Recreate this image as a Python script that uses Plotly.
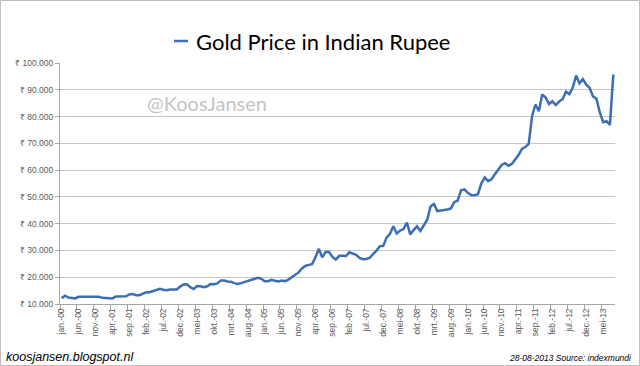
import plotly.graph_objects as go

# ---- data ----
month_abbr = ["jan.", "feb.", "mrt.", "apr.", "mei", "jun.", "jul.", "aug.", "sep.", "okt.", "nov.", "dec."]
years = ["00", "01", "02", "03", "04", "05", "06", "07", "08", "09", "10", "11", "12", "13"]
categories = [f"{m}-{y}" for y in years for m in month_abbr][:164]

price_2000 = [12200, 13100, 12400, 12200, 12100, 12700, 12700, 12600, 12600, 12600, 12500, 12700]
price_2001 = [12300, 12200, 12200, 12100, 12800, 12800, 12700, 12900, 13600, 13700, 13300, 13300]
price_2002 = [13900, 14400, 14400, 14800, 15400, 15700, 15300, 15100, 15400, 15300, 15400, 16500]
price_2003 = [17300, 17400, 16300, 15600, 16700, 16600, 16300, 16600, 17500, 17400, 17700, 18800]
price_2004 = [18800, 18400, 18300, 17800, 17500, 17800, 18200, 18400, 18800, 19200, 19800, 19400]
price_2005 = [18500, 18500, 19000, 18700, 18400, 18800, 18500, 19100, 20000, 21000, 21800, 23300]
price_2006 = [24200, 24600, 24900, 27500, 30600, 27400, 29500, 29400, 27600, 26600, 28000, 28000]
price_2007 = [27900, 29300, 28700, 28400, 27200, 26700, 26800, 27200, 28600, 29900, 31600, 31700]
price_2008 = [34800, 36200, 39000, 36300, 37400, 38000, 40400, 36000, 37600, 39000, 37300, 39500]
price_2009 = [41500, 46400, 47400, 44700, 45000, 45100, 45300, 45700, 48000, 48600, 52500, 52800]
price_2010 = [51500, 50700, 50600, 51000, 55000, 57300, 55900, 56600, 58500, 60000, 61900, 62600]
price_2011 = [61600, 62300, 64000, 65600, 67900, 68600, 69800, 80200, 84500, 82000, 88300, 87100]
price_2012 = [84700, 85700, 84300, 85600, 86500, 89300, 88400, 90700, 95300, 92400, 94000, 91900]
price_2013 = [90700, 87500, 86700, 81600, 77900, 78300, 76900, 95700]

prices = (price_2000 + price_2001 + price_2002 + price_2003 + price_2004 + price_2005 +
          price_2006 + price_2007 + price_2008 + price_2009 + price_2010 + price_2011 +
          price_2012 + price_2013)

y_tickvals = [10000, 20000, 30000, 40000, 50000, 60000, 70000, 80000, 90000, 100000]
y_ticktext = ["₹ 10.000", "₹ 20.000", "₹ 30.000", "₹ 40.000", "₹ 50.000",
              "₹ 60.000", "₹ 70.000", "₹ 80.000", "₹ 90.000", "₹ 100.000"]

series_name = "Gold Price in Indian Rupee"
LINE = "#3C6EB4"

# ---- layout geometry (pixels) ----
W, H = 640, 366
ML, MR, MT, MB = 60, 25, 63, 62
PW, PH = W - ML - MR, H - MT - MB


def px(x):
    return (x - ML) / PW


def py(y):
    return (H - MB - y) / PH


fig = go.Figure()
fig.add_trace(go.Scatter(
    x=categories, y=prices, mode="lines", name=series_name,
    line=dict(color=LINE, width=2.5), showlegend=False,
))

fig.update_layout(
    width=W, height=H,
    margin=dict(l=ML, r=MR, t=MT, b=MB),
    paper_bgcolor="white", plot_bgcolor="white",
    font=dict(family="Liberation Sans, Arial, sans-serif", color="#595959"),
    xaxis=dict(
        type="category", range=[-0.5, len(categories) - 0.5],
        tickmode="linear", tick0=0, dtick=5,
        tickson="boundaries", ticks="outside", ticklen=5, tickcolor="#a6a6a6",
        tickangle=-90, tickfont=dict(size=8.5, color="#595959"),
        showline=True, linecolor="#a6a6a6", linewidth=1,
        showgrid=False, zeroline=False,
    ),
    yaxis=dict(
        range=[10000, 100000], tickmode="array",
        tickvals=y_tickvals, ticktext=y_ticktext,
        ticks="outside", ticklen=4, tickcolor="#a6a6a6",
        tickfont=dict(size=8.5, color="#595959"),
        showline=True, linecolor="#a6a6a6", linewidth=1,
        showgrid=True, gridcolor="#c6c6c6", gridwidth=1, zeroline=False,
    ),
    shapes=[
        # legend sample line
        dict(type="line", xref="paper", yref="paper",
             x0=px(174), x1=px(188), y0=py(41), y1=py(41),
             line=dict(color=LINE, width=2.5)),
        # outer border
        dict(type="rect", xref="paper", yref="paper",
             x0=px(0.5), x1=px(639.5), y0=py(365.5), y1=py(0.5),
             line=dict(color="#bfbfbf", width=1)),
    ],
    annotations=[
        dict(text=series_name, xref="paper", yref="paper", x=px(194), y=py(41),
             xanchor="left", yanchor="middle", showarrow=False,
             font=dict(family="Lato, Liberation Sans, sans-serif", size=22, color="#000000")),
        dict(text="@KoosJansen", xref="paper", yref="paper", x=px(207), y=py(103),
             xanchor="center", yanchor="middle", showarrow=False,
             font=dict(family="Lato, Liberation Sans, sans-serif", size=20, color="#c4c4c4")),
        dict(text="<i>koosjansen.blogspot.nl</i>", xref="paper", yref="paper",
             x=px(4), y=py(357), xanchor="left", yanchor="middle", showarrow=False,
             font=dict(family="Liberation Sans, sans-serif", size=12.5, color="#000000")),
        dict(text="<i>28-08-2013 Source: indexmundi</i>", xref="paper", yref="paper",
             x=px(634), y=py(358), xanchor="right", yanchor="middle", showarrow=False,
             font=dict(family="Liberation Sans, sans-serif", size=8.5, color="#000000")),
    ],
)

fig.write_html("out.html", config={"displayModeBar": False},
               post_script="document.body.style.margin='0';")
